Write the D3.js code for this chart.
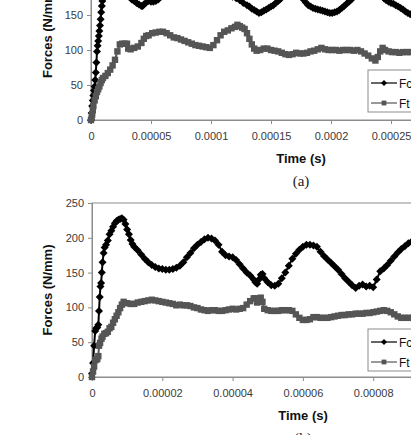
<!DOCTYPE html>
<html lang="en">
<head>
<meta charset="UTF-8">
<script src="https://cdn.jsdelivr.net/npm/d3@7"></script>
<title>Forces vs time</title>
<style>
  body { margin: 0; background: #fff; }
  svg { display: block; font-family: "Liberation Sans", Arial, sans-serif; }
</style>
</head>
<body>
<svg width="411" height="435"></svg>
<script>
// values, time in microseconds, force in N/mm
var tFcA = [0,0.5,1,1.5,2,2.5,3,3.5,4,4.5, 5,5.5,6,6.5,7,7.5,8,8.5,9,9.5, 10,11,12,14,16,18,20,22,24,26,
  28,30,32,34,36,38,40,42,43,44, 46,48,50,52,54,56,58,62,66,70, 74,78,82,86,90,94,98,102,106,110,
  114,118,121,124,127,130,132,134,136,138, 140,142,144,146,148,150,152,154,156,158, 162,166,170,174,177,179,181,183,185,187,
  189,191,193,195,197,199,201,203,205,207, 209,211,213,215,217,220,225,230,235,240, 244,246,248,250,252,254,256,258,260,262, 264,266,268,270];
var fcA = [0,10,20,28,35,42,48,57,68,82, 98,106,113,120,127,135,144,154,163,170, 178,190,200,212,220,224,222,215,205,196,
  188,181,176,172,170,167,165,163,163,165, 168,170,169,169,170,172,176,184,190,195, 198,200,200,198,194,190,186,184,182,180,
  178,176,174,171,167,164,162,159,157,155, 153,154,156,158,160,162,164,167,170,173, 180,185,184,178,172,168,164,162,160,159,
  158,157,156,155,154,153,153,154,155,157, 160,163,166,169,172,178,186,190,188,180, 174,171,169,167,166,164,162,160,158,155, 153,151,150,149];

var tFtA = [0,0.5,1,1.5,2,3,4,5,6,7, 8,9,10,12,14,16,18,20,22,24, 26,28,30,31,33,36,39,42,44,46,
  48,51,54,57,60,63,66,69,72,75, 78,81,84,87,90,93,96,99,102,105, 108,111,114,117,120,122,124,126,128,130,
  132,134,136,138,141,144,147,150,153,156, 159,162,165,168,171,174,177,180,183,186, 189,192,195,198,201,204,207,210,213,216,
  219,222,225,228,231,234,237,239,241,243, 245,248,251,254,257,260,263,266,269];
var ftA = [0,3,8,14,20,28,34,40,44,48, 53,57,60,63,67,72,78,86,98,108, 109,109,109,102,101,103,105,110,116,120,
  121,124,125,126,126,124,121,118,117,115, 113,111,109,107,106,105,104,103,107,114, 121,126,128,131,133,136,134,132,130,124,
  116,108,102,99,100,102,102,100,99,98, 96,94,93,94,96,95,95,96,98,99, 101,103,101,100,100,100,99,100,100,100,
  99,100,98,95,92,88,85,90,98,103, 100,98,97,97,96,97,97,97,97];

var tFcB = [0,0.3,0.6,0.9,1.2,1.5,1.8,2,2.2,2.4, 2.6,2.8,3,3.3,3.6,4,4.5,5,5.5,6, 6.5,7,7.5,8,8.5,9,9.5,10,10.5,11,
  11.5,12,13,14,15,16,17,18,19,20, 21,22,23,24,25,26,27,28,29,30, 31,32,33,34,35,36,37,38,39,40,
  41,42,43,44,45,46,46.5,47,47.5,48, 48.5,49,50,51,52,53,54,55,56,57, 58,59,60,61,62,63,64,65,66,67,
  68,69,70,71,72,73,74,75,76,77, 78,79,80,81,82,83,84,85,86,87, 88,89,90,91,92];
var fcB = [5,20,45,66,70,71,75,95,115,130, 135,150,165,178,186,190,196,205,210,216, 221,224,226,227,228,226,220,212,205,197,
  191,187,182,176,170,165,161,158,156,155, 154,154,155,157,160,165,172,178,185,190, 194,198,200,199,196,190,180,175,173,172,
  168,162,156,150,146,140,136,134,140,147, 148,142,136,132,131,134,142,150,160,170, 177,183,187,190,190,189,187,180,174,169,
  164,159,154,148,142,137,132,128,131,133, 130,131,129,140,152,156,161,167,173,179, 184,188,192,195,197];

var tFtB = [0,0.3,0.6,0.9,1.2,1.5,1.8,2,2.3,2.7, 3,3.5,4,4.5,5,5.5,6,6.5,7,7.5, 8,8.5,9,10,11,12,13,14,15,16,
  17,18,19,20,21,22,23,24,25,26, 27,28,29,30,31,32,33,34,35,36, 37,38,39,40,41,42,43,44,45,46,
  46.5,47,47.5,48,48.5,49,50,51,52,53, 54,55,56,57,58,59,60,61,62,63, 64,65,66,67,68,69,70,71,72,73,
  74,75,76,77,78,79,80,81,82,83, 84,85,86,87,88,89,90,91,92];
var ftB = [0,8,15,24,25,26,30,45,49,55, 58,62,63,65,70,72,78,83,88,93, 99,104,108,106,105,105,107,108,109,110,
  111,110,109,108,107,106,105,103,104,103, 103,102,100,99,97,96,95,96,96,95, 95,96,97,98,97,98,99,104,109,113,
  113,107,112,114,108,98,96,95,95,95, 96,96,96,95,90,85,82,82,83,86, 86,85,85,85,86,87,88,89,89,90,
  90,91,91,91,92,92,93,94,95,96, 95,93,90,87,85,85,85,85,85];

var yTicks = [0, 50, 100, 150, 200, 250];
var xTicksA = [0, 50, 100, 150, 200, 250, 300];
var xTickLabelsA = ["0", "0.00005", "0.0001", "0.00015", "0.0002", "0.00025", "0.0003"];
var xTicksB = [0, 20, 40, 60, 80, 100];
var xTickLabelsB = ["0", "0.00002", "0.00004", "0.00006", "0.00008", "0.0001"];
var seriesNames = ["Fc", "Ft"];
var seriesColours = ["#000000", "#555555"];

var svg = d3.select("svg");

function marker(sel, kind, colour, r) {
  if (kind == 0) {
    // diamond
    sel.append("path").attr("d", "M0," + (-r) + "L" + r + ",0L0," + r + "L" + (-r) + ",0Z").attr("fill", colour);
  } else {
    var h = r * 0.8;
    sel.append("rect").attr("x", -h).attr("y", -h).attr("width", 2 * h).attr("height", 2 * h).attr("fill", colour);
  }
}

function drawChart(c) {
  var x = d3.scaleLinear().domain([0, c.xMax]).range([c.left, c.right]);
  var y = d3.scaleLinear().domain([0, 250]).range([c.bottom, c.top]);
  var g = svg.append("g");

  // plot area border
  g.append("rect")
    .attr("x", c.left).attr("y", c.top)
    .attr("width", c.right - c.left).attr("height", c.bottom - c.top)
    .attr("fill", "none").attr("stroke", "#8c8c8c");

  var xAxis = d3.axisBottom(x).tickValues(c.xTicks).tickSize(4).tickPadding(8)
    .tickFormat(function(d, i) { return c.xLabels[i]; });
  var yAxis = d3.axisLeft(y).tickValues(yTicks).tickSize(4).tickPadding(4);

  var ax = g.append("g").attr("transform", "translate(0," + c.bottom + ")").call(xAxis);
  var ay = g.append("g").attr("transform", "translate(" + c.left + ",0)").call(yAxis);
  [ax, ay].forEach(function(a) {
    a.select(".domain").attr("stroke", "#8c8c8c");
    a.selectAll(".tick line").attr("stroke", "#8c8c8c");
    a.selectAll("text").attr("fill", "#3a3a3a").attr("font-size", 11)
      .attr("font-family", "Liberation Sans, Arial, sans-serif");
  });

  // the two series, line plus a marker at each point
  c.series.forEach(function(s, k) {
    var pts = s.t.map(function(t, i) { return [t, s.v[i]]; });
    var line = d3.line().x(function(d) { return x(d[0]); }).y(function(d) { return y(d[1]); });
    g.append("path").datum(pts).attr("d", line)
      .attr("fill", "none").attr("stroke", seriesColours[k]).attr("stroke-width", 2);
    var m = g.append("g").selectAll("g").data(pts).enter().append("g")
      .attr("transform", function(d) { return "translate(" + x(d[0]) + "," + y(d[1]) + ")"; });
    marker(m, k, seriesColours[k], 4);
  });

  // axis titles
  g.append("text").attr("x", c.titleX).attr("y", c.bottom + 43)
    .attr("text-anchor", "middle").attr("font-weight", "bold").attr("font-size", 13)
    .attr("fill", "#111").text("Time (s)");
  g.append("text")
    .attr("transform", "translate(52," + ((c.top + c.bottom) / 2) + ") rotate(-90)")
    .attr("text-anchor", "middle").attr("font-weight", "bold").attr("font-size", 13)
    .attr("fill", "#111").text("Forces (N/mm)");
  g.append("text").attr("x", c.titleX).attr("y", c.bottom + 66)
    .attr("text-anchor", "middle").attr("font-size", 15)
    .attr("font-family", "Liberation Serif, Times New Roman, serif")
    .attr("fill", "#222").text(c.letter);

  // legend
  var lg = g.append("g").attr("transform", "translate(368," + c.legendTop + ")");
  lg.append("rect").attr("width", 70).attr("height", 42)
    .attr("fill", "#fff").attr("stroke", "#8c8c8c");
  seriesNames.forEach(function(name, k) {
    var ly = 13 + k * 20;
    lg.append("line").attr("x1", 3).attr("x2", 29).attr("y1", ly).attr("y2", ly)
      .attr("stroke", seriesColours[k]).attr("stroke-width", 1.2);
    var m = lg.append("g").attr("transform", "translate(16," + ly + ")");
    marker(m, k, seriesColours[k], 3);
    lg.append("text").attr("x", 31).attr("y", ly + 4.5).attr("font-size", 12)
      .attr("fill", "#111").text(name);
  });
}

drawChart({
  left: 91, right: 451, top: -55, bottom: 120, xMax: 300,
  xTicks: xTicksA, xLabels: xTickLabelsA, titleX: 301, letter: "(a)", legendTop: 70,
  series: [{t: tFcA, v: fcA}, {t: tFtA, v: ftA}]
});
drawChart({
  left: 92, right: 443.5, top: 203, bottom: 377, xMax: 100,
  xTicks: xTicksB, xLabels: xTickLabelsB, titleX: 303, letter: "(b)", legendTop: 329,
  series: [{t: tFcB, v: fcB}, {t: tFtB, v: ftB}]
});
</script>
</body>
</html>
